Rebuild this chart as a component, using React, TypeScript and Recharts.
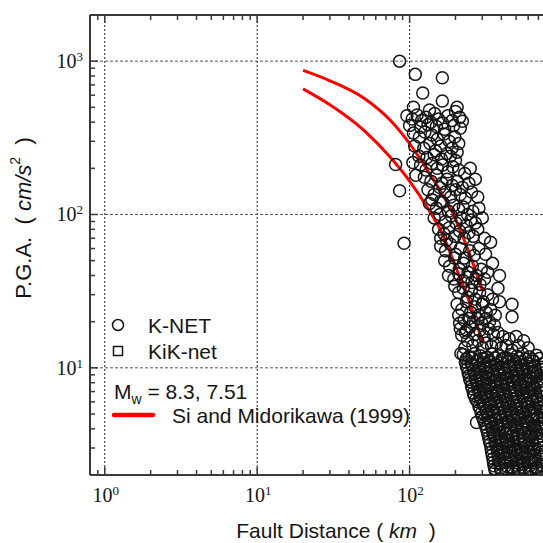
import React from "react";
import { ComposedChart, Scatter, Line, XAxis, YAxis, ReferenceLine, Legend } from "recharts";

// K-NET stations, [fault distance km, PGA cm/s2]
const kNetOutliers: [number, number][] = [
  [86, 1000], [109, 820], [164, 780], [122, 620], [164, 550], [106, 500], [135, 480],
  [205, 500], [213, 430], [81, 212], [86, 143], [92, 65],
];

const kNetNear: [number, number][] = [
  [96, 440], [104, 420], [112, 445], [120, 410], [128, 430], [138, 400], [146, 455], [155, 420],
  [165, 395], [178, 440], [190, 410], [200, 470], [100, 380], [118, 370], [132, 385], [150, 375],
  [170, 360], [195, 380], [215, 365], [222, 405],
  [106, 340], [116, 320], [126, 345], [140, 330], [152, 310], [168, 335], [182, 300], [198, 320],
  [210, 290], [108, 280], [124, 270], [136, 290], [148, 260], [160, 280], [176, 250], [190, 270],
  [205, 255], [115, 240], [130, 235], [145, 245], [162, 230], [185, 240], [200, 225],
  [105, 218], [110, 180], [118, 210], [128, 195], [140, 215], [152, 200], [165, 210], [178, 190],
  [192, 205], [210, 195], [230, 185], [250, 200], [125, 175], [138, 165], [150, 180], [163, 160],
  [176, 170], [190, 155], [205, 165], [222, 150], [245, 160], [270, 170], [132, 145], [145, 135],
  [158, 150], [172, 140], [186, 130], [200, 145], [215, 135], [232, 128], [255, 140], [280, 130],
  [140, 125], [160, 122],
];

const kNetMid: [number, number][] = [
  [135, 118], [150, 110], [165, 120], [180, 105], [195, 115], [210, 108], [225, 112], [240, 100],
  [260, 105], [285, 110], [145, 95], [158, 100], [172, 90], [188, 98], [202, 88], [218, 95],
  [235, 85], [252, 92], [270, 88], [300, 95], [155, 80], [168, 75], [182, 82], [198, 72],
  [213, 78], [228, 70], [245, 76], [262, 72], [280, 80], [310, 70], [160, 70], [175, 68], [340, 66],
  [160, 62], [172, 58], [186, 64], [200, 55], [215, 60], [230, 52], [248, 58], [265, 54],
  [285, 60], [315, 55], [170, 50], [183, 46], [197, 52], [212, 44], [226, 48], [242, 42],
  [258, 46], [275, 40], [295, 44], [325, 42], [350, 48], [180, 40], [195, 38], [210, 41],
  [225, 37], [240, 39], [256, 36], [272, 38], [290, 35], [310, 38], [389, 40],
  [198, 34], [210, 31], [225, 33], [240, 29], [255, 32], [270, 28], [288, 31], [305, 27],
  [325, 30], [350, 28], [205, 26], [220, 24], [236, 27], [252, 23], [268, 25], [285, 22],
  [300, 26], [318, 23], [340, 24], [365, 22], [210, 22], [228, 20.5], [245, 21], [262, 20],
  [280, 21], [298, 19.5], [316, 21], [335, 20], [360, 19], [389, 27], [470, 26], [470, 21.5], [380, 33],
  [213, 19.5], [236, 17.6], [220, 16.3], [215, 18], [232, 17], [250, 18.5], [268, 16.5],
  [288, 17.5], [308, 16], [330, 18], [355, 16.5], [380, 17], [410, 16], [450, 15.5], [500, 16],
  [560, 15], [240, 15], [260, 14], [280, 15], [300, 13.5], [320, 14.5], [345, 13.8], [370, 14.5],
  [400, 13.5], [430, 14], [470, 13], [520, 14], [600, 13.5], [230, 13.5], [217, 12.4],
];

const kNetFar: [number, number][] = [
  [225, 12.2], [245, 11.8], [268, 12.4], [292, 12], [320, 11.7], [350, 12.3], [385, 12], [420, 11.6],
  [460, 12.2], [505, 11.9], [550, 12.4], [610, 11.8], [680, 12.1],
  [232, 10.9], [255, 10.6], [278, 11], [305, 10.7], [335, 10.9], [365, 10.5], [400, 10.8], [440, 11],
  [485, 10.6], [530, 10.9], [590, 10.7], [650, 11], [730, 10.6],
  [240, 9.9], [262, 9.6], [288, 9.8], [315, 10], [345, 9.6], [378, 9.9], [415, 9.7], [455, 10],
  [500, 9.6], [548, 9.8], [605, 9.9], [670, 9.6], [750, 9.8],
  [245, 8.9], [270, 8.7], [296, 8.9], [325, 8.6], [356, 8.8], [390, 8.9], [428, 8.6], [470, 8.8],
  [515, 8.7], [565, 8.9], [625, 8.6], [690, 8.8], [770, 8.7],
  [252, 8.1], [276, 7.9], [302, 8], [332, 7.8], [364, 8.1], [398, 7.9], [437, 8], [480, 8.1],
  [528, 7.8], [580, 8], [640, 7.9], [710, 8.1],
  [258, 7.3], [284, 7.1], [312, 7.2], [342, 7.3], [375, 7], [410, 7.2], [450, 7.3], [495, 7.1],
  [545, 7.2], [600, 7], [665, 7.3], [735, 7.1],
  [265, 6.6], [290, 6.4], [318, 6.5], [350, 6.6], [385, 6.4], [422, 6.5], [462, 6.6], [508, 6.4],
  [558, 6.5], [615, 6.6], [680, 6.4], [755, 6.5],
  [280, 6], [305, 5.8], [335, 5.9], [368, 6], [403, 5.8], [442, 5.9], [485, 6], [532, 5.8],
  [585, 5.9], [645, 6], [715, 5.8],
  [290, 5.4], [318, 5.2], [348, 5.3], [382, 5.4], [418, 5.2], [458, 5.3], [503, 5.4], [552, 5.2],
  [607, 5.3], [670, 5.4], [740, 5.2],
  [300, 4.8], [328, 4.7], [360, 4.9], [395, 4.8], [432, 4.7], [474, 4.9], [520, 4.8], [572, 4.7],
  [630, 4.9], [695, 4.8], [770, 4.7],
  [312, 4.3], [340, 4.4], [372, 4.2], [408, 4.3], [447, 4.4], [490, 4.2], [538, 4.3], [592, 4.4],
  [650, 4.2], [720, 4.3], [275, 4.4],
  [322, 3.9], [352, 3.8], [385, 4], [422, 3.9], [462, 3.8], [507, 3.9], [556, 4], [612, 3.8],
  [675, 3.9], [745, 4],
  [330, 3.5], [360, 3.6], [395, 3.5], [432, 3.4], [473, 3.6], [518, 3.5], [568, 3.4], [625, 3.6],
  [690, 3.5], [760, 3.4],
  [338, 3.2], [370, 3.1], [405, 3.2], [443, 3.15], [485, 3.1], [532, 3.2], [585, 3.1], [645, 3.2],
  [712, 3.15],
  [345, 2.85], [378, 2.9], [413, 2.8], [452, 2.85], [495, 2.9], [543, 2.8], [597, 2.85], [658, 2.9],
  [725, 2.8],
  [352, 2.55], [385, 2.5], [420, 2.6], [460, 2.55], [503, 2.5], [552, 2.6], [607, 2.55], [668, 2.5],
  [740, 2.6],
  [358, 2.3], [392, 2.35], [428, 2.3], [468, 2.25], [512, 2.3], [560, 2.35], [615, 2.3], [678, 2.25],
  [750, 2.3],
  [365, 2.12], [398, 2.15], [436, 2.1], [478, 2.12], [523, 2.15], [572, 2.1], [628, 2.12], [692, 2.15],
];

const kNetFarFill: [number, number][] = [
  [235, 11.4], [257, 11.6], [280, 11.3], [306, 11.5], [334, 11.2], [366, 11.6], [402, 11.4], [440, 11.5],
  [482, 11.3], [527, 11.6], [578, 11.4], [640, 11.3], [710, 11.5],
  [236, 10.2], [258, 10.4], [283, 10.1], [310, 10.3], [340, 10.2], [372, 10.4], [408, 10.1], [447, 10.3],
  [492, 10.2], [538, 10.4], [596, 10.2], [660, 10.3], [740, 10.1],
  [242, 9.3], [266, 9.2], [292, 9.4], [320, 9.3], [350, 9.1], [384, 9.4], [421, 9.2], [462, 9.3],
  [507, 9.2], [556, 9.4], [615, 9.3], [680, 9.2], [760, 9.3],
  [248, 8.4], [273, 8.3], [299, 8.5], [328, 8.4], [360, 8.3], [394, 8.4], [432, 8.5], [475, 8.3],
  [521, 8.4], [572, 8.3], [632, 8.5], [700, 8.4],
  [255, 7.6], [280, 7.5], [307, 7.7], [337, 7.6], [370, 7.5], [404, 7.6], [443, 7.7], [487, 7.5],
  [536, 7.6], [590, 7.5], [652, 7.6], [722, 7.7],
  [262, 6.85], [287, 6.9], [315, 6.8], [346, 6.9], [380, 6.8], [416, 6.85], [456, 6.9], [501, 6.8],
  [551, 6.85], [607, 6.9], [672, 6.8], [745, 6.85],
  [272, 6.2], [297, 6.15], [326, 6.25], [359, 6.2], [394, 6.1], [432, 6.2], [473, 6.25], [520, 6.15],
  [571, 6.2], [630, 6.1], [697, 6.2],
  [285, 5.6], [311, 5.55], [341, 5.65], [375, 5.6], [410, 5.5], [450, 5.6], [494, 5.65], [542, 5.55],
  [596, 5.6], [657, 5.5], [727, 5.6],
  [295, 5.05], [323, 5], [354, 5.1], [388, 5.05], [425, 4.95], [466, 5.05], [511, 5.1], [562, 5],
  [618, 5.05], [682, 5], [755, 5.1],
  [306, 4.55], [334, 4.5], [366, 4.6], [401, 4.55], [440, 4.5], [482, 4.6], [529, 4.55], [582, 4.5],
  [640, 4.6], [707, 4.55],
  [317, 4.1], [346, 4.05], [378, 4.15], [415, 4.1], [455, 4.05], [498, 4.1], [547, 4.15], [602, 4.05],
  [662, 4.1], [732, 4.15],
  [326, 3.7], [356, 3.68], [390, 3.75], [427, 3.7], [468, 3.65], [512, 3.7], [562, 3.75], [618, 3.68],
  [682, 3.7], [752, 3.72],
  [334, 3.33], [365, 3.3], [400, 3.36], [437, 3.32], [479, 3.3], [525, 3.35], [576, 3.3], [635, 3.34],
  [700, 3.32],
  [342, 3.0], [374, 2.98], [409, 3.02], [447, 3.0], [490, 2.97], [537, 3.02], [591, 3.0], [651, 2.98],
  [718, 3.01],
  [348, 2.7], [381, 2.68], [416, 2.72], [456, 2.7], [499, 2.67], [547, 2.72], [602, 2.7], [663, 2.68],
  [732, 2.71],
  [355, 2.42], [388, 2.4], [424, 2.44], [464, 2.42], [507, 2.4], [556, 2.44], [611, 2.42], [673, 2.4],
  [745, 2.43],
  [362, 2.2], [395, 2.22], [432, 2.19], [473, 2.21], [517, 2.2], [566, 2.22], [621, 2.2], [685, 2.21],
];

// Si and Midorikawa (1999), Mw 8.3 and 7.51
const siUpperDist = [20, 30, 50, 75, 100, 140, 190, 240, 300];
const siUpperPga = [870, 745, 575, 410, 290, 175, 104, 60, 32];
const siLowerDist = [20, 30, 50, 75, 100, 130, 165, 200, 250, 300];
const siLowerPga = [660, 520, 355, 235, 165, 112, 74, 46, 26, 14.8];

const decades = [1, 10, 100, 1000];
const xLabelled = [1, 10, 100];
const xTicks = [0.9, 1, 2, 3, 4, 5, 6, 7, 8, 9, 10, 20, 30, 40, 50, 60, 70, 80, 90,
  100, 200, 300, 400, 500, 600, 700, 800, 900, 1000];
const yTicks = [3, 4, 5, 6, 7, 8, 9, 10, 20, 30, 40, 50, 60, 70, 80, 90,
  100, 200, 300, 400, 500, 600, 700, 800, 900, 1000];

const SANS = "'Liberation Sans', Arial, sans-serif";
const SERIF = "'Liberation Serif', 'Times New Roman', serif";
const INK = "#151515";
const AXIS = "#3a3a3a";

const toPts = (arr: [number, number][]) => arr.map(([dist, pga]) => ({ dist, pga }));
const knet = toPts([...kNetOutliers, ...kNetNear, ...kNetMid, ...kNetFar, ...kNetFarFill]);
const siUpper = siUpperDist.map((dist, i) => ({ dist, pga: siUpperPga[i] }));
const siLower = siLowerDist.map((dist, i) => ({ dist, pga: siLowerPga[i] }));

const expOf = (v: number) => Math.round(Math.log10(v));

const BottomTick = (p: any) => {
  const v = p.payload.value;
  const major = decades.includes(v);
  return (
    <g>
      <line x1={p.x} y1={p.y} x2={p.x} y2={p.y - (major ? 8 : 5)} stroke={AXIS} strokeWidth={1.5} />
      {xLabelled.includes(v) && (
        <text x={p.x + 1} y={p.y + 27} textAnchor="middle" fontFamily={SERIF} fontSize={20} fill={INK}>
          10<tspan dy={-7} fontSize={13}>{expOf(v)}</tspan>
        </text>
      )}
    </g>
  );
};

const TopTick = (p: any) => {
  const major = decades.includes(p.payload.value);
  return <line x1={p.x} y1={p.y} x2={p.x} y2={p.y + (major ? 8 : 5)} stroke={AXIS} strokeWidth={1.5} />;
};

const LeftTick = (p: any) => {
  const v = p.payload.value;
  const major = decades.includes(v);
  return (
    <g>
      <line x1={p.x} y1={p.y} x2={p.x + (major ? 8 : 5)} y2={p.y} stroke={AXIS} strokeWidth={1.5} />
      {major && (
        <text x={p.x - 7} y={p.y + 7} textAnchor="end" fontFamily={SERIF} fontSize={20} fill={INK}>
          10<tspan dy={-7} fontSize={13}>{expOf(v)}</tspan>
        </text>
      )}
    </g>
  );
};

const XTitle = (p: any) => {
  const vb = p.viewBox || { x: 90, y: 475, width: 472 };
  return (
    <text x={vb.x + vb.width / 2 + 10} y={vb.y + 63} textAnchor="middle" fontFamily={SANS} fontSize={21} fill={INK}>
      Fault Distance (<tspan fontStyle="italic">{"\u00a0"}km{"\u00a0"}</tspan>{"\u00a0"})
    </text>
  );
};

const YTitle = (p: any) => {
  const vb = p.viewBox || { x: 89, y: 15 };
  const cx = vb.x + (vb.width || 0) - 67;
  const cy = vb.y + 203;
  return (
    <text x={cx} y={cy} transform={`rotate(-90 ${cx} ${cy})`} textAnchor="middle" dominantBaseline="central"
      fontFamily={SANS} fontSize={22} fill={INK}>
      P.G.A.{"\u00a0\u00a0"}({"\u00a0"}<tspan fontStyle="italic">cm/s</tspan>
      <tspan dy={-8} fontSize={14}>2</tspan>
      <tspan dy={8}>{"\u00a0\u00a0"})</tspan>
    </text>
  );
};

const LegendBox = () => (
  <svg width={340} height={135} style={{ display: "block" }}>
    <circle cx={22} cy={25} r={5.5} fill="none" stroke={INK} strokeWidth={1.5} />
    <text x={52} y={32.5} fontFamily={SANS} fontSize={21} fill={INK}>K-NET</text>
    <rect x={17.5} y={46.5} width={9} height={9} fill="none" stroke={INK} strokeWidth={1.5} />
    <text x={52} y={58.5} fontFamily={SANS} fontSize={21} fill={INK}>KiK-net</text>
    <text x={18} y={98.5} fontFamily={SANS} fontSize={21} fill={INK}>
      M<tspan dy={5} fontSize={14}>w</tspan>
      <tspan dy={-5}> = 8.3, 7.51</tspan>
    </text>
    <line x1={18} y1={115} x2={57} y2={115} stroke="#ff0000" strokeWidth={4.5} strokeLinecap="round" />
    <text x={76} y={122.5} fontFamily={SANS} fontSize={21} fill={INK}>Si and Midorikawa (1999)</text>
  </svg>
);

const Ring = (p: any) => (
  <circle cx={p.cx} cy={p.cy} r={6} fill="none" stroke={INK} strokeWidth={1.5} />
);

const vGrid = { stroke: "#222", strokeDasharray: "2 2", strokeWidth: 1 };
const hGrid = { stroke: "#555", strokeDasharray: "3 2", strokeWidth: 1 };

export default function App() {
  return (
    <div style={{ position: "fixed", left: 0, top: 0, width: 543, height: 543, overflow: "hidden", background: "#fff" }}>
      <ComposedChart width={600} height={543} margin={{ top: 14, right: 38, bottom: 67, left: 89 }}>
        <XAxis
          dataKey="dist"
          type="number"
          scale="log"
          domain={[0.8, 1000]}
          allowDataOverflow
          ticks={xTicks}
          interval={0}
          height={1}
          tickSize={0}
          tickMargin={0}
          tick={BottomTick}
          axisLine={{ stroke: AXIS, strokeWidth: 2 }}
          label={<XTitle />}
        />
        <XAxis
          xAxisId="top"
          orientation="top"
          dataKey="dist"
          type="number"
          scale="log"
          domain={[0.8, 1000]}
          allowDataOverflow
          ticks={xTicks}
          interval={0}
          height={1}
          tickSize={0}
          tickMargin={0}
          tick={TopTick}
          axisLine={{ stroke: AXIS, strokeWidth: 2 }}
        />
        <YAxis
          dataKey="pga"
          type="number"
          scale="log"
          domain={[2, 2000]}
          allowDataOverflow
          ticks={yTicks}
          interval={0}
          width={1}
          tickSize={0}
          tickMargin={0}
          tick={LeftTick}
          axisLine={{ stroke: AXIS, strokeWidth: 2 }}
          label={<YTitle />}
        />
        {decades.slice(0, 3).map((d) => (
          <ReferenceLine key={`vx${d}`} x={d} {...vGrid} />
        ))}
        {decades.slice(1).map((d) => (
          <ReferenceLine key={`hy${d}`} y={d} {...hGrid} />
        ))}
        <Scatter name="K-NET" data={knet} dataKey="pga" shape={Ring} isAnimationActive={false} />
        <Line data={siUpper} dataKey="pga" type="monotone" stroke="#ff0000" strokeWidth={3} dot={false}
          isAnimationActive={false} />
        <Line data={siLower} dataKey="pga" type="monotone" stroke="#ff0000" strokeWidth={3} dot={false}
          isAnimationActive={false} />
        <Legend
          layout="vertical"
          align="center"
          verticalAlign="middle"
          wrapperStyle={{ left: 96, top: 300, width: 340 }}
          content={() => <LegendBox />}
        />
      </ComposedChart>
    </div>
  );
}
